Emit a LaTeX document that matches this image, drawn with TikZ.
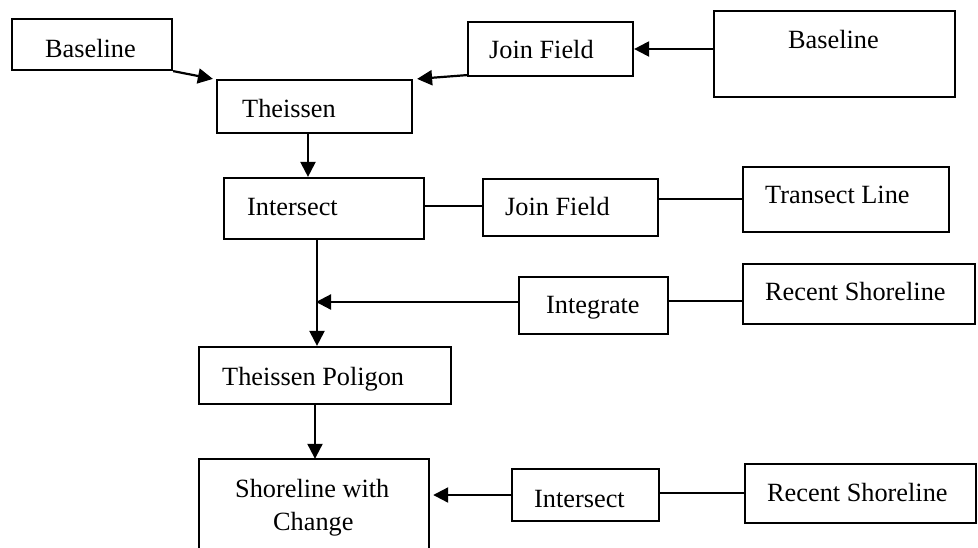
\documentclass[tikz,border=0pt]{standalone}
\usepackage{fontspec}
\setmainfont{Liberation Serif}
\usetikzlibrary{arrows.meta}
\begin{document}
\begin{tikzpicture}[x=1pt,y=-1pt,
  box/.style={draw, line width=2.2pt, inner sep=0pt},
  nobox/.style={inner sep=0pt},
  txt/.style={anchor=base west, inner sep=0pt, font=\fontsize{26.3}{30}\selectfont},
  arr/.style={line width=2.2pt, -{Triangle[length=15pt,width=15pt]}},
  ln/.style={line width=2.2pt}]
\useasboundingbox (0,0) rectangle (978,547);
% boxes
\node[box, minimum width=160, minimum height=51] (b1) at (92,44.5) {};
\node[box, minimum width=195, minimum height=53] (th) at (314.5,106.5) {};
\node[box, minimum width=165, minimum height=54] (jf1) at (550.5,49) {};
\node[box, minimum width=241, minimum height=86] (bl2) at (834.5,54) {};
\node[box, minimum width=200, minimum height=61] (is1) at (324,208.5) {};
\node[box, minimum width=175, minimum height=57] (jf2) at (570.5,207.5) {};
\node[box, minimum width=206, minimum height=65] (tl) at (846,199.5) {};
\node[box, minimum width=149, minimum height=57] (ig) at (593.5,305.5) {};
\node[box, minimum width=232, minimum height=60] (rs1) at (859,294) {};
\node[box, minimum width=252, minimum height=57] (tp) at (325,375.5) {};
\node[nobox, minimum width=230, minimum height=90] (sc) at (314,504) {};
\node[box, minimum width=147, minimum height=52] (is2) at (585.5,495) {};
\node[box, minimum width=231, minimum height=59] (rs2) at (860.5,493.5) {};
\draw[ln] (sc.south west) -- (sc.north west) -- (sc.north east) -- (sc.south east);
% texts
\node[txt] (t1) at (45,57.3) {Baseline};
\node[txt] (t2) at (242,117) {Theissen};
\node[txt] (t3) at (489,58) {Join Field};
\node[txt] (t4) at (788,48) {Baseline};
\node[txt] (t5) at (247,215) {Intersect};
\node[txt] (t6) at (505,215) {Join Field};
\node[txt] (t7) at (765,203) {Transect Line};
\node[txt] (t8) at (546,313) {Integrate};
\node[txt] (t9) at (765,300) {Recent Shoreline};
\node[txt] (t10) at (222,385) {Theissen Poligon};
\node[txt] (t11) at (235,497) {Shoreline with};
\node[txt] (t12) at (273,530) {Change};
\node[txt] (t13) at (534,507) {Intersect};
\node[txt] (t14) at (767,501) {Recent Shoreline};
% connectors
\draw[arr] (b1.south east) -- ([xshift=-3]th.north west);
\draw[arr] ([yshift=2]jf1.south west) -- ([xshift=4]th.north east);
\draw[arr] (bl2.west |- jf1.east) -- (jf1.east);
\draw[arr] ([xshift=-6.5]th.south) -- ([xshift=-6.5]th.south |- is1.north);
\draw[ln] ([yshift=2.5]is1.east) -- ([yshift=2.5]is1.east -| jf2.west);
\draw[ln] ([yshift=8.5]jf2.east) -- ([yshift=8.5]jf2.east -| tl.west);
\draw[arr] ([xshift=-7]is1.south) -- ([xshift=-7]is1.south |- tp.north);
\coordinate (j1) at (316,302);
\draw[arr] (j1 -| ig.west) -- (j1);
\draw[ln] ([yshift=4.5]ig.east) -- ([yshift=4.5]ig.east -| rs1.west);
\draw[arr] ([xshift=-10]tp.south) -- ([xshift=-10]tp.south |- sc.north);
\draw[arr] (is2.west) -- ([xshift=4]is2.west -| sc.east);
\draw[ln] ([yshift=2]is2.east) -- ([yshift=2]is2.east -| rs2.west);
\end{tikzpicture}
\end{document}
